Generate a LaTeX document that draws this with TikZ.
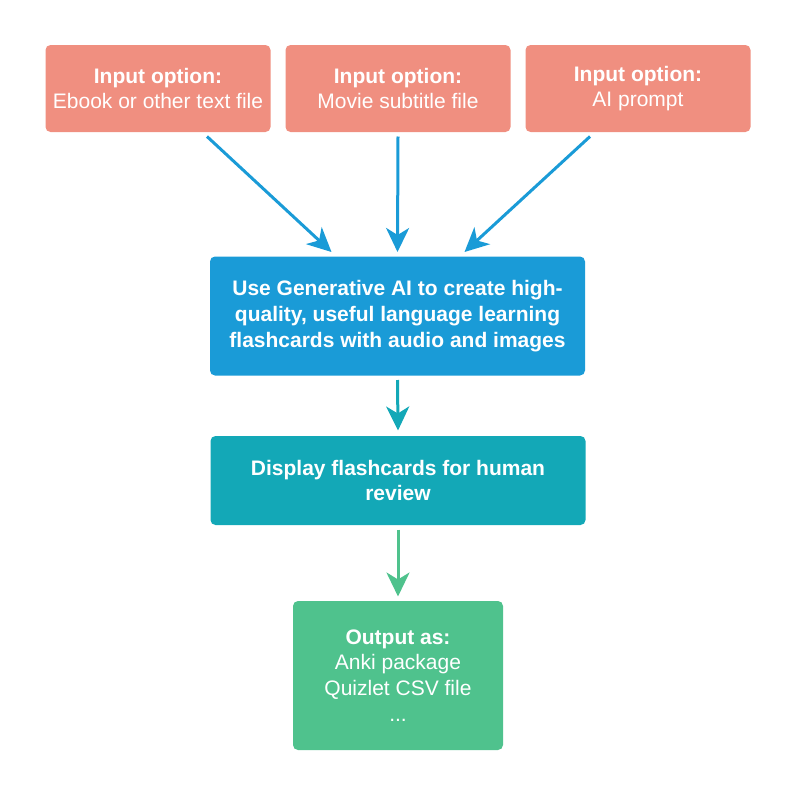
\documentclass[tikz,border=0pt]{standalone}
\usepackage{fontspec}
\setmainfont{Liberation Sans}
\usetikzlibrary{arrows.meta}
\definecolor{salmon}{HTML}{F08F80}
\definecolor{genblue}{HTML}{1A9BD7}
\definecolor{revteal}{HTML}{13A8B7}
\definecolor{outgreen}{HTML}{4FC28D}

\begin{document}
\begin{tikzpicture}[x=1pt, y=1pt, font=\fontsize{21}{25.8}\selectfont, line width=3pt,
	box/.style={rounded corners=5pt, text=white, align=center, inner sep=0pt},
	input node/.style={box, fill=salmon, minimum width=225pt, minimum height=87pt},
	flow/.style={-{Stealth[length=24pt, width=23pt, inset=7pt]}}]
			\useasboundingbox (0,0) rectangle (795,-795);
			\node[input node] (ebook) at (158,-88.5) {\textbf{Input option:}\\Ebook or other text file};
			\node[input node] (movie) at (398,-88.5) {\textbf{Input option:}\\Movie subtitle file};
			\node[input node] (prompt) at (638,-88.5) {\textbf{Input option:}\\AI prompt};
			\node[box, fill=genblue, minimum width=375pt, minimum height=119pt] (gen) at (397.5,-316)
				{\textbf{Use Generative AI to create high-}\\\textbf{quality, useful language learning}\\\textbf{flashcards with audio and images}};
			\node[box, fill=revteal, minimum width=375pt, minimum height=89pt] (review) at (398,-480.5)
				{\textbf{Display flashcards for human}\\\textbf{review}};
			\node[box, fill=outgreen, minimum width=210pt, minimum height=149pt] (output) at (398,-675.5)
				{\textbf{Output as:}\\Anki package\\Quizlet CSV file\\...};
			
			\coordinate (ebook out) at ([shift={(49,-3)}]ebook.south);
			\coordinate (prompt out) at ([shift={(-48,-3)}]prompt.south);
			\coordinate (gen in left) at ([shift={(-66,3)}]gen.north);
			\coordinate (gen in right) at ([shift={(67,3)}]gen.north);
			
			\path[color=genblue]
				(ebook out) edge[flow] (gen in left)
				([yshift=-3]movie.south) edge[flow] ([yshift=3]gen.north)
				(prompt out) edge[flow] (gen in right)
			;
			\draw[flow, color=revteal] ([yshift=-3]gen.south) -- ([yshift=4]review.north);
			\draw[flow, color=outgreen] ([yshift=-3]review.south) -- ([yshift=3]output.north);
		\end{tikzpicture}
\end{document}
